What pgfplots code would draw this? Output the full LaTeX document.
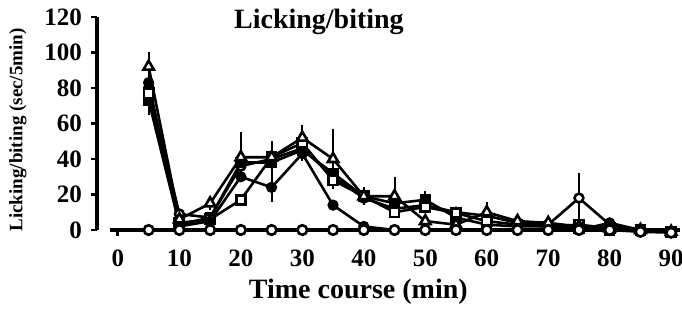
\documentclass[border=0pt]{standalone}
\usepackage{fontspec}
\setmainfont{Liberation Serif}
\usepackage{pgfplots}
\pgfplotsset{compat=1.18}
\begin{document}
\begin{tikzpicture}
\begin{axis}[
 name=ax, at={(0,0)}, anchor=south west,
 scale only axis, width=291.7pt, height=106.5pt,
 xmin=-3.4, xmax=91.5, ymin=0, ymax=120,
 axis lines=left, axis line style={-, line width=1.8pt},
 x axis line style={shorten <=6.5pt},
 xtick={0,10,...,90}, minor xtick={5,15,...,85},
 ytick={0,20,...,120},
 tick align=outside, major tick length=3pt, minor tick length=3pt,
 tick style={line width=1.4pt, black},
 ticklabel style={font=\bfseries\fontsize{12.5}{13}\selectfont},
 xticklabel style={yshift=-3.5pt},
 yticklabel style={xshift=-1pt},
 /pgf/number format/assume math mode=true,
 xlabel={Time course (min)},
 xlabel style={font=\bfseries\fontsize{14}{14}\selectfont, at={(axis description cs:0.448,0)}, anchor=center, yshift=-31pt},
 ylabel={Licking/biting (sec/5min)},
 ylabel style={font=\bfseries\fontsize{9.5}{9.5}\selectfont, at={(axis description cs:-0.1355,0.47)}, anchor=center},
 clip=false,
 every axis plot/.append style={black, line width=1.3pt, mark options={solid, line width=1pt}},
]
% open circles dose
\addplot[mark=*, mark size=2.2pt, mark options={fill=white}, error bars/.cd, y dir=both, y explicit, error mark=none, error bar style={line width=1pt}] table[x=t,y=v,y error=e] {
t v e
5 80 6
10 9 0
15 7 0
20 36 0
25 40 0
30 46 0
35 30 0
40 18 0
45 12 0
50 14 0
55 10 0
60 8 0
65 4 0
70 3 0
75 18 14
80 3 0
85 0 0
90 -1 0
};
% filled squares
\addplot[mark=square*, mark size=2.3pt, error bars/.cd, y dir=both, y explicit, error mark=none, error bar style={line width=1pt}] table[x=t,y=v,y error=e] {
t v e
5 73 8
10 3 0
15 7 0
20 38 0
25 38 12
30 45 0
35 32 0
40 19 3
45 15 0
50 17 5
55 7 3
60 3 0
65 2 0
70 2 0
75 1 0
80 0 0
85 0 0
90 -1 0
};
% open squares
\addplot[mark=square*, mark size=2.3pt, mark options={fill=white}, error bars/.cd, y dir=both, y explicit, error mark=none, error bar style={line width=1pt}] table[x=t,y=v,y error=e] {
t v e
5 77 0
10 4 0
15 6 0
20 17 0
25 41 0
30 49 0
35 28 0
40 19 0
45 10 0
50 13 0
55 9.5 0
60 5 0
65 3 0
70 2 0
75 3 0
80 1 0
85 0 0
90 -1 0
};
% filled circles
\addplot[mark=*, mark size=2.3pt, error bars/.cd, y dir=both, y explicit, error mark=none, error bar style={line width=1pt}] table[x=t,y=v,y error=e] {
t v e
5 83 0
10 2 0
15 5 0
20 30 0
25 24 8
30 43 4
35 14 0
40 2 0
45 0 0
50 0 0
55 0 0
60 0 0
65 0 0
70 0 0
75 0 0
80 4 0
85 0 0
90 -1 0
};
% open triangles
\addplot[mark=triangle*, mark size=3pt, mark options={fill=white}, error bars/.cd, y dir=both, y explicit, error mark=none, error bar style={line width=1pt}] table[x=t,y=v,y error=e] {
t v e
5 92 8
10 6 0
15 15 4
20 41 14
25 41 5
30 52 7
35 40 17
40 19 5
45 19 11
50 5 3
55 3 2
60 10 6
65 5 2
70 4 2
75 2 2
80 1 1
85 0 0
90 -1 0
};
% baseline (open circles, zero)
\addplot[mark=*, mark size=2.4pt, mark options={fill=white}] coordinates {
(5,0)(10,0)(15,0)(20,0)(25,0)(30,0)(35,0)(40,0)(45,0)(50,0)(55,0)(60,0)(65,0)(70,0)(75,0)(80,0)(85,-1)(90,-1.5)};
\node[font=\bfseries\fontsize{14}{14}\selectfont] at (axis cs:32.7,117) {Licking/biting};
\end{axis}
\pgfresetboundingbox
\path[use as bounding box] (-48.5pt,-39.5pt) rectangle (292.5pt,115pt);
\end{tikzpicture}
\end{document}
